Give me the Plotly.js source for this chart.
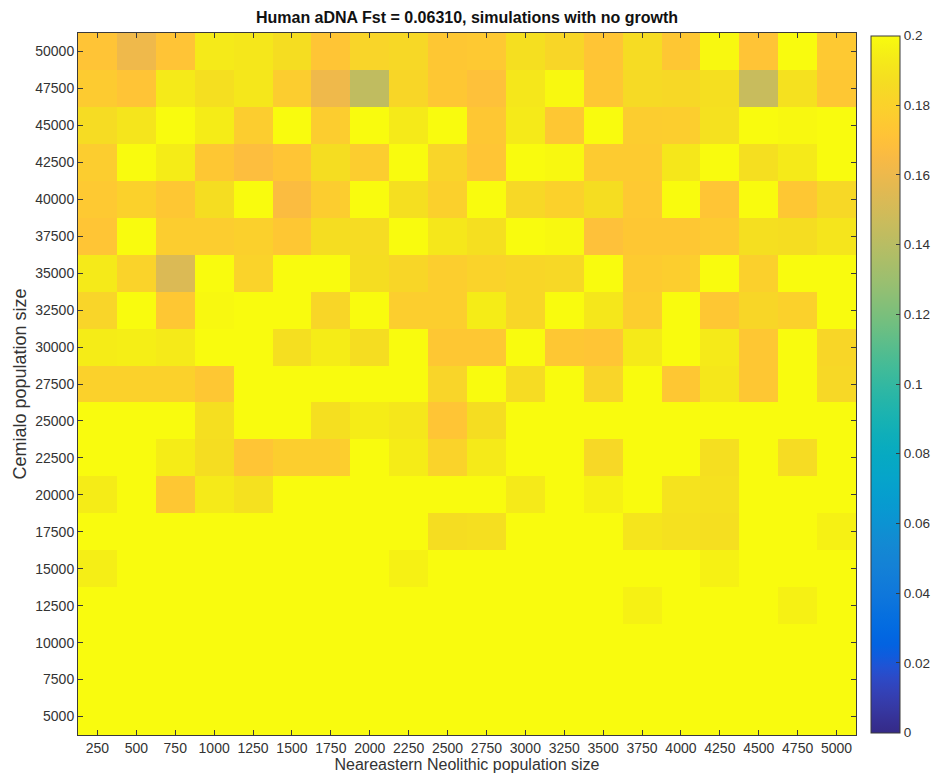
<!DOCTYPE html>
<html>
<head>
<meta charset="utf-8">
<script src="https://cdn.plot.ly/plotly-3.0.1.min.js"></script>
<style>
  html, body { margin: 0; padding: 0; background: #fff; }
  #chart { width: 938px; height: 776px; }
</style>
</head>
<body>
<div id="chart"></div>
<script>
// Neareastern Neolithic population size (columns)
const neolithicSizes = [250, 500, 750, 1000, 1250, 1500, 1750, 2000, 2250, 2500,
                        2750, 3000, 3250, 3500, 3750, 4000, 4250, 4500, 4750, 5000];
// Cemialo population size (rows, top to bottom)
const cemialoSizes = [50000, 47500, 45000, 42500, 40000, 37500, 35000, 32500, 30000, 27500,
                      25000, 22500, 20000, 17500, 15000, 12500, 10000, 7500, 5000];

// Fst values, one row per Cemialo population size (same order as cemialoSizes)
const row50000 = [0.172, 0.161, 0.172, 0.193, 0.192, 0.187, 0.173, 0.182, 0.184, 0.174, 0.175, 0.188, 0.183, 0.173, 0.186, 0.174, 0.199, 0.172, 0.200, 0.175];
const row47500 = [0.176, 0.172, 0.193, 0.188, 0.192, 0.177, 0.161, 0.143, 0.183, 0.174, 0.170, 0.192, 0.199, 0.174, 0.185, 0.184, 0.188, 0.146, 0.189, 0.174];
const row45000 = [0.186, 0.191, 0.200, 0.194, 0.177, 0.200, 0.177, 0.200, 0.193, 0.200, 0.174, 0.193, 0.174, 0.200, 0.177, 0.178, 0.189, 0.200, 0.199, 0.200];
const row42500 = [0.177, 0.200, 0.194, 0.174, 0.168, 0.173, 0.187, 0.177, 0.200, 0.182, 0.173, 0.200, 0.199, 0.176, 0.176, 0.192, 0.200, 0.188, 0.193, 0.200];
const row40000 = [0.175, 0.180, 0.174, 0.187, 0.200, 0.167, 0.177, 0.200, 0.188, 0.179, 0.200, 0.184, 0.180, 0.187, 0.175, 0.200, 0.173, 0.200, 0.174, 0.184];
const row37500 = [0.173, 0.200, 0.177, 0.177, 0.179, 0.174, 0.187, 0.186, 0.200, 0.192, 0.188, 0.200, 0.199, 0.170, 0.174, 0.174, 0.176, 0.188, 0.187, 0.191];
const row35000 = [0.193, 0.181, 0.153, 0.200, 0.181, 0.200, 0.200, 0.187, 0.183, 0.178, 0.181, 0.183, 0.184, 0.200, 0.176, 0.178, 0.200, 0.179, 0.200, 0.200];
const row32500 = [0.182, 0.200, 0.174, 0.199, 0.200, 0.200, 0.183, 0.200, 0.178, 0.178, 0.194, 0.183, 0.200, 0.192, 0.178, 0.200, 0.174, 0.183, 0.180, 0.200];
const row30000 = [0.194, 0.195, 0.193, 0.200, 0.200, 0.188, 0.194, 0.187, 0.200, 0.174, 0.174, 0.200, 0.174, 0.173, 0.193, 0.200, 0.193, 0.174, 0.200, 0.183];
const row27500 = [0.180, 0.180, 0.180, 0.174, 0.200, 0.200, 0.200, 0.200, 0.200, 0.182, 0.200, 0.186, 0.200, 0.182, 0.200, 0.174, 0.192, 0.174, 0.200, 0.184];
const row25000 = [0.200, 0.200, 0.200, 0.188, 0.200, 0.200, 0.188, 0.194, 0.192, 0.173, 0.187, 0.200, 0.200, 0.200, 0.200, 0.200, 0.200, 0.200, 0.200, 0.200];
const row22500 = [0.200, 0.200, 0.194, 0.187, 0.173, 0.178, 0.178, 0.200, 0.194, 0.181, 0.193, 0.200, 0.200, 0.184, 0.200, 0.200, 0.188, 0.200, 0.186, 0.200];
const row20000 = [0.194, 0.200, 0.174, 0.193, 0.189, 0.200, 0.200, 0.200, 0.200, 0.200, 0.200, 0.193, 0.200, 0.196, 0.200, 0.190, 0.189, 0.200, 0.200, 0.200];
const row17500 = [0.200, 0.200, 0.200, 0.200, 0.200, 0.200, 0.200, 0.200, 0.200, 0.187, 0.188, 0.200, 0.200, 0.200, 0.191, 0.189, 0.188, 0.200, 0.200, 0.196];
const row15000 = [0.195, 0.200, 0.200, 0.200, 0.200, 0.200, 0.200, 0.200, 0.196, 0.200, 0.200, 0.200, 0.200, 0.200, 0.200, 0.200, 0.196, 0.200, 0.200, 0.200];
const row12500 = [0.200, 0.200, 0.200, 0.200, 0.200, 0.200, 0.200, 0.200, 0.200, 0.200, 0.200, 0.200, 0.200, 0.200, 0.196, 0.200, 0.200, 0.200, 0.196, 0.200];
const row10000 = [0.200, 0.200, 0.200, 0.200, 0.200, 0.200, 0.200, 0.200, 0.200, 0.200, 0.200, 0.200, 0.200, 0.200, 0.200, 0.200, 0.200, 0.200, 0.200, 0.200];
const row7500  = [0.200, 0.200, 0.200, 0.200, 0.200, 0.200, 0.200, 0.200, 0.200, 0.200, 0.200, 0.200, 0.200, 0.200, 0.200, 0.200, 0.200, 0.200, 0.200, 0.200];
const row5000  = [0.200, 0.200, 0.200, 0.200, 0.200, 0.200, 0.200, 0.200, 0.200, 0.200, 0.200, 0.200, 0.200, 0.200, 0.200, 0.200, 0.200, 0.200, 0.200, 0.200];

const colorbarTicks = [0, 0.02, 0.04, 0.06, 0.08, 0.1, 0.12, 0.14, 0.16, 0.18, 0.2];

const fstRows = [row50000, row47500, row45000, row42500, row40000, row37500, row35000,
                 row32500, row30000, row27500, row25000, row22500, row20000, row17500,
                 row15000, row12500, row10000, row7500, row5000];

// MATLAB parula colormap (64 steps) - style constant
const parulaRGB = [
[53,42,135],[54,48,147],[54,55,160],[53,61,173],[50,67,186],[44,74,199],[32,83,212],[15,92,221],
[3,99,225],[2,104,225],[4,109,224],[8,113,222],[13,117,220],[16,121,218],[18,125,216],[20,129,214],
[20,133,212],[19,137,211],[16,142,210],[12,147,210],[9,152,209],[7,156,207],[6,160,205],[6,164,202],
[6,167,198],[7,169,194],[10,172,190],[15,174,185],[21,177,180],[29,179,175],[37,181,169],[46,183,164],
[56,185,158],[66,187,152],[77,188,146],[89,189,140],[101,190,134],[113,191,128],[124,191,123],[135,191,119],
[146,191,115],[156,191,111],[165,190,107],[174,190,103],[183,189,100],[192,188,96],[200,188,93],[209,187,89],
[217,186,86],[225,185,82],[233,185,78],[241,185,74],[248,186,68],[253,190,61],[255,195,55],[254,200,50],
[252,206,46],[250,211,42],[247,216,38],[245,222,33],[245,228,29],[245,235,24],[246,243,19],[249,251,14]];
const parula = parulaRGB.map((c, i) => [i / (parulaRGB.length - 1), 'rgb(' + c.join(',') + ')']);

const FONT = '"Liberation Sans", Arial, Helvetica, sans-serif';
const axisColor = '#3a3a3a';

const trace = {
  type: 'heatmap',
  x: neolithicSizes,
  y: cemialoSizes,
  z: fstRows,
  zmin: 0,
  zmax: 0.2,
  colorscale: parula,
  xgap: 0, ygap: 0,
  hoverongaps: false,
  colorbar: {
    x: 1.0193, xanchor: 'left', xref: 'paper',
    y: 0.5, yanchor: 'middle', yref: 'paper',
    len: 0.993, lenmode: 'fraction',
    thickness: 29, thicknessmode: 'pixels',
    xpad: 0, ypad: 0,
    outlinewidth: 1, outlinecolor: axisColor,
    tickmode: 'array', tickvals: colorbarTicks,
    ticktext: colorbarTicks.map(String),
    ticks: 'inside', ticklen: 4, tickwidth: 1, tickcolor: axisColor,
    tickfont: { family: FONT, size: 13.5, color: '#333' },
    ticklabelposition: 'outside'
  }
};

const layout = {
  width: 938, height: 776,
  margin: { l: 78, r: 82, t: 33, b: 41, pad: 0, autoexpand: false },
  paper_bgcolor: '#ffffff',
  plot_bgcolor: '#ffffff',
  font: { family: FONT, color: '#222' },
  title: {
    text: '<b>Human aDNA Fst = 0.06310, simulations with no growth</b>',
    font: { family: FONT, size: 16, color: '#111' },
    x: 0.5, xref: 'paper', xanchor: 'center',
    y: 0.978, yref: 'container', yanchor: 'middle'
  },
  xaxis: {
    range: [125, 5125],
    tickmode: 'array', tickvals: neolithicSizes, ticktext: neolithicSizes.map(String),
    ticks: 'inside', ticklen: 5, tickwidth: 1, tickcolor: axisColor,
    showline: true, linecolor: axisColor, linewidth: 1, mirror: 'ticks',
    showgrid: false, zeroline: false,
    tickfont: { family: FONT, size: 14, color: '#333' },
    title: { text: 'Neareastern Neolithic population size', font: { family: FONT, size: 16, color: '#333' }, standoff: 0 },
    automargin: false
  },
  yaxis: {
    range: [3750, 51250],
    tickmode: 'array', tickvals: cemialoSizes, ticktext: cemialoSizes.map(String),
    ticks: 'inside', ticklen: 5, tickwidth: 1, tickcolor: axisColor,
    showline: true, linecolor: axisColor, linewidth: 1, mirror: 'ticks',
    showgrid: false, zeroline: false,
    tickfont: { family: FONT, size: 14, color: '#333' },
    title: { text: 'Cemialo population size', font: { family: FONT, size: 18, color: '#333' }, standoff: 3 },
    automargin: false
  }
};

Plotly.newPlot('chart', [trace], layout, { displayModeBar: false, staticPlot: true });
</script>
</body>
</html>
